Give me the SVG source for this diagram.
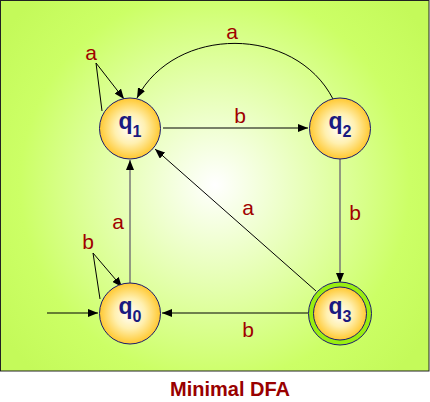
<svg xmlns="http://www.w3.org/2000/svg" width="430" height="402" viewBox="0 0 430 402">
<defs>
<radialGradient id="bg" cx="215" cy="185" r="260" gradientUnits="userSpaceOnUse">
<stop offset="0" stop-color="#ffffff"/>
<stop offset="0.75" stop-color="#ccff66"/>
<stop offset="1" stop-color="#c4fa5a"/>
</radialGradient>
<radialGradient id="node" cx="0.5" cy="0.5" r="0.5">
<stop offset="0" stop-color="#ffffff"/>
<stop offset="0.5" stop-color="#fff0b0"/>
<stop offset="1" stop-color="#ffc830"/>
</radialGradient>
<marker id="ah" viewBox="0 0 10 8" refX="10" refY="4" markerWidth="10" markerHeight="8" markerUnits="userSpaceOnUse" orient="auto">
<path d="M0,0 L10,4 L0,8 Z" fill="#000"/>
</marker>
<style>
.st{fill:url(#node);stroke:#1a1a6e;stroke-width:1}
.q{font-family:"Liberation Sans",Arial,sans-serif;font-weight:bold;fill:#1a1a80}
.lb{font-family:"Liberation Sans",Arial,sans-serif;font-size:21px;fill:#a00000;text-anchor:middle}
.e{fill:none;stroke:#000;stroke-width:1}
.g{fill:none;stroke:#777;stroke-width:1.5}
</style>
</defs>
<rect x="0.5" y="0.5" width="428.5" height="370.5" fill="url(#bg)" stroke="#222" stroke-width="1"/>
<g id="connectors">
<path class="e" d="M163 128 L308 128" marker-end="url(#ah)"/>
<path class="g" d="M340 159 L340 283" marker-end="url(#ah)"/>
<path class="e" d="M308 313 L162 313" marker-end="url(#ah)"/>
<path class="g" d="M130 283 L130 160" marker-end="url(#ah)"/>
<path class="e" d="M316 291 L155 149" marker-end="url(#ah)"/>
<path class="e" d="M333 99 C295 25 175 25 137 98" marker-end="url(#ah)"/>
<path class="e" d="M102 111 L96 63 L124 99" marker-end="url(#ah)"/>
<path class="e" d="M100 299 L93 253 L122 287" marker-end="url(#ah)"/>
<path class="e" d="M47 313 L98 313" marker-end="url(#ah)"/>
<text class="lb" x="232" y="39">a</text>
<text class="lb" x="91" y="60">a</text>
<text class="lb" x="240" y="123">b</text>
<text class="lb" x="355" y="220">b</text>
<text class="lb" x="248" y="215">a</text>
<text class="lb" x="118" y="229">a</text>
<text class="lb" x="88" y="249">b</text>
<text class="lb" x="248" y="337">b</text>
</g>
<g id="q1">
<circle class="st" cx="130" cy="128.5" r="30.5"/>
<text class="q" x="118.5" y="129" font-size="23">q<tspan font-size="16" dy="8">1</tspan></text>
</g>
<g id="q2">
<circle class="st" cx="340" cy="128.5" r="30.5"/>
<text class="q" x="328.5" y="129" font-size="23">q<tspan font-size="16" dy="8">2</tspan></text>
</g>
<g id="q0">
<circle class="st" cx="130" cy="313.5" r="30.5"/>
<text class="q" x="118.5" y="314" font-size="23">q<tspan font-size="16" dy="8">0</tspan></text>
</g>
<g id="q3">
<circle cx="340" cy="313.5" r="31.5" fill="#99ee11" stroke="#1a1a6e" stroke-width="1"/>
<circle class="st" cx="340" cy="313.5" r="26.5"/>
<text class="q" x="328.5" y="314" font-size="23">q<tspan font-size="16" dy="8">3</tspan></text>
</g>
<text x="230" y="396" font-family="'Liberation Sans',Arial,sans-serif" font-weight="bold" font-size="20" fill="#990000" text-anchor="middle">Minimal DFA</text>
</svg>
